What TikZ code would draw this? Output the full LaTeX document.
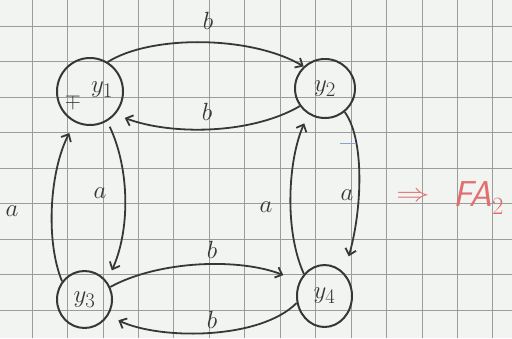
\documentclass[tikz,border=0pt]{standalone}
\usetikzlibrary{arrows.meta,shapes.geometric}
\definecolor{paper}{RGB}{241,244,241}
\definecolor{gridc}{RGB}{155,157,155}
\definecolor{pen}{RGB}{55,55,55}
\definecolor{redink}{RGB}{226,110,110}
\definecolor{blueink}{RGB}{140,160,210}
\tikzset{
  gridline/.style={draw=gridc,line width=0.8pt},
  state/.style={ellipse,draw=pen,line width=2pt,inner sep=0pt,text=pen,font=\fontsize{28}{28}\selectfont},
  edge/.style={draw=pen,line width=1.8pt,-{Straight Barb[length=6pt,width=11pt]}},
  lbl/.style={text=pen,font=\fontsize{29}{29}\selectfont,inner sep=0pt},
  rednote/.style={text=redink,font=\fontsize{36}{36}\selectfont,inner sep=0pt}
}
\begin{document}
\begin{tikzpicture}[x=1pt,y=-1pt]
\fill[paper] (0,0) rectangle (512,338);
\useasboundingbox (0,0) rectangle (512,338);
\foreach \i in {0,...,13} \draw[gridline] ({32+35.45*\i},0) -- ({32+35.45*\i},338);
\foreach \j in {0,...,8} \draw[gridline] (0,{26+35.5*\j}) -- (512,{26+35.5*\j});
% states
\node[state,minimum width=66pt,minimum height=67pt] (y1) at (90,91.5) {};
\node[text=pen,font=\fontsize{28}{28}\selectfont,inner sep=0pt] (y1t) at (102,90) {$y_1$};
\node[text=pen,font=\fontsize{22}{22}\selectfont,inner sep=0pt] (y1m) at (73,101) {$\mp$};
\node[state,minimum width=60pt,minimum height=59pt] (y2) at (325,88.5) {$y_2$};
\node[state,minimum width=55pt,minimum height=57pt] (y3) at (84.5,299.5) {$y_3$};
\node[state,minimum width=55pt,minimum height=62pt] (y4) at (324.5,296) {$y_4$};
% edges
\draw[edge] (y1.59) .. controls (150,35) and (250,35) .. (y2.134);
\draw[edge,shorten >=10pt] (y2.215) .. controls (250,135) and (170,135) .. (y1.-42);
\draw[edge,shorten <=6pt,shorten >=12pt] (y1.-60) .. controls (130,170) and (130,230) .. (y3.39);
\draw[edge,shorten >=12pt] (y3.141) .. controls (45,240) and (50,170) .. (y1.-116);
\draw[edge,shorten >=17pt] (y2.-50) .. controls (365,140) and (362,210) .. (y4.50);
\draw[edge,shorten >=10pt] (y4.133) .. controls (284,230) and (288,160) .. (y2.-123);
\draw[edge,shorten >=17pt] (y3.26) .. controls (160,260) and (240,258) .. (y4.150);
\draw[edge,shorten >=11pt] (y4.-166) .. controls (260,340) and (160,340) .. (y3.-34);
% labels
\node[lbl] (l1) at (208,21) {$b$};
\node[lbl] (l2) at (207,112) {$b$};
\node[lbl] (l3) at (100,193) {$a$};
\node[lbl] (l4) at (12,211) {$a$};
\node[lbl] (l5) at (347,195) {$a$};
\node[lbl] (l6) at (266,207) {$a$};
\node[lbl] (l7) at (212,250) {$b$};
\node[lbl] (l8) at (212,320) {$b$};
% red note
\node[rednote,anchor=west] (arr) at (396,197) {\scalebox{1.35}[1]{$\Rightarrow$}};
\node[rednote,anchor=west] (fa) at (453,198) {\textsf{\textit{FA}}$_2$};
% blue mark
\draw[blueink,line width=1pt] (340,143) -- (356,143);
\end{tikzpicture}
\end{document}
